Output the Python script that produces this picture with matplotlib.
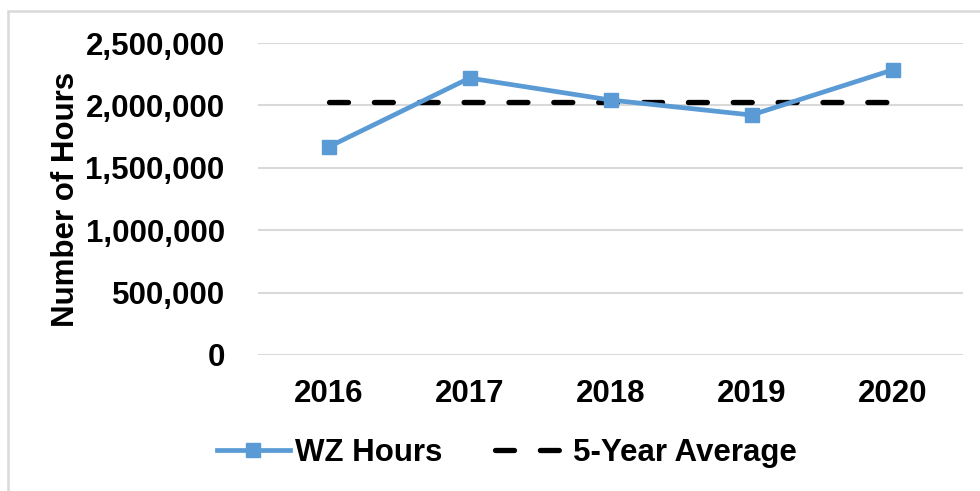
import matplotlib
matplotlib.use("Agg")
import matplotlib.pyplot as plt
from matplotlib.patches import Rectangle
from matplotlib.ticker import FuncFormatter, MultipleLocator

plt.rcParams['font.family'] = ['Liberation Sans', 'DejaVu Sans']
plt.rcParams['font.weight'] = 'bold'

years = ["2016", "2017", "2018", "2019", "2020"]
wz_hours = [1667000, 2219000, 2043000, 1923000, 2284000]
five_year_avg = [2027000, 2027000, 2027000, 2027000, 2027000]

FS = 22.5
W, H = 980, 491
fig = plt.figure(figsize=(W / 100, H / 100), dpi=100)
ax = fig.add_axes([258 / W, 1 - 355 / H, (963 - 258) / W, (355 - 43) / H])

x = list(range(len(years)))
ax.plot(x, wz_hours, color='#5B9BD5', lw=3.4, marker='s', markersize=10,
        label='WZ Hours', zorder=3)
ax.plot(x, five_year_avg, color='black', lw=3.8, linestyle=(0, (3.6, 4.9)),
        dash_capstyle='round', label='5-Year Average', zorder=2)

ax.set_xlim(-0.5, 4.5)
ax.set_ylim(0, 2500000)
ax.yaxis.set_major_locator(MultipleLocator(500000))
ax.yaxis.set_major_formatter(FuncFormatter(lambda v, p: f"{int(v):,}"))
ax.set_xticks(x)
ax.set_xticklabels(years)
ax.grid(axis='y', color='#D9D9D9', lw=1.5)
ax.set_axisbelow(True)
for s in ax.spines.values():
    s.set_visible(False)
ax.tick_params(axis='both', length=0, labelsize=FS)
ax.tick_params(axis='y', pad=24)
ax.tick_params(axis='x', pad=17)
for lab in ax.get_xticklabels() + ax.get_yticklabels():
    lab.set_fontweight('bold')
ax.set_ylabel('Number of Hours', fontsize=FS, fontweight='bold', labelpad=3)

leg = fig.legend(loc='center', bbox_to_anchor=(507 / W, 1 - 453 / H), ncol=2,
                 frameon=False, handlelength=2.35, handletextpad=0.15,
                 columnspacing=1.7, prop={'weight': 'bold', 'size': FS})

fig.patches.append(Rectangle((8 / W, -0.1), 1.2, 1 - 11 / H + 0.1,
                             transform=fig.transFigure, fill=False,
                             edgecolor='#D9D9D9', lw=1.8, zorder=0))

fig.savefig('out.png', dpi=100)
